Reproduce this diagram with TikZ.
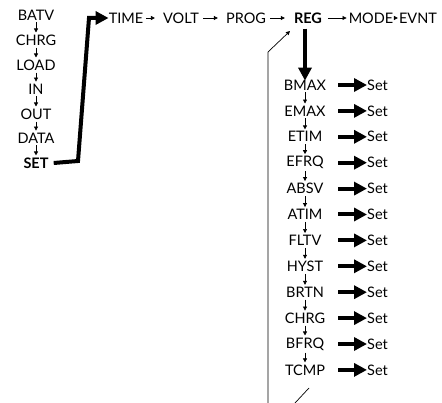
\documentclass[tikz,border=0pt]{standalone}
\usepackage{fontspec}
\setmainfont{Lato}
\usetikzlibrary{arrows.meta}
\begin{document}
\begin{tikzpicture}[x=1pt,y=-1pt,
  lbl/.style={inner sep=0pt, font=\fontsize{14.5}{14.5}\selectfont},
  blbl/.style={lbl, font=\fontsize{14.5}{14.5}\selectfont\bfseries},
  sarrow/.style={-{Triangle[length=4pt,width=4pt]}, line width=0.7pt, shorten >=2pt, shorten <=2pt},
  harrow/.style={-{Triangle[length=4pt,width=4pt]}, line width=0.7pt},
  thinline/.style={line width=0.7pt},
  bigarrow/.style={line width=4pt, -{Triangle[length=13pt,width=13pt]}}]
\useasboundingbox (0,0) rectangle (442,403);
% left column
\node[lbl] (batv) at (36,15) {BATV};
\node[lbl] (chrgA) at (36,40) {CHRG};
\node[lbl] (load) at (36,65) {LOAD};
\node[lbl] (in) at (36,89) {IN};
\node[lbl] (out) at (36,114) {OUT};
\node[lbl] (data) at (36,138) {DATA};
\node[blbl] (set) at (36,163) {SET};
\foreach \a/\b in {batv/chrgA,chrgA/load,load/in,in/out,out/data,data/set}
  \draw[sarrow] (\a.south) -- (\b.north);
% top row
\node[lbl] (time) at (126,18) {TIME};
\node[lbl] (volt) at (181,18) {VOLT};
\node[lbl] (prog) at (246,18) {PROG};
\node[blbl] (reg) at (308,18) {REG};
\node[lbl] (mode) at (371,18) {MODE};
\node[lbl] (evnt) at (418,18) {EVNT};
\draw[harrow] ([xshift=3pt]time.east) -- ([xshift=-8pt]volt.west);
\draw[harrow] ([xshift=4pt]volt.east) -- ([xshift=-8pt]prog.west);
\draw[harrow] ([xshift=4pt]prog.east) -- ([xshift=-9pt]reg.west);
\draw[harrow] ([xshift=6pt]reg.east) -- ([xshift=-2pt]mode.west);
\draw[harrow] ([xshift=2pt]mode.east) -- ([xshift=-1pt]evnt.west);
% thick path from SET to TIME
\coordinate (c1) at (78,161);
\coordinate (c2) at (89,18);
\draw[bigarrow, line join=miter] ([xshift=5pt]set.east) -- (c1) -- (c2) -- (time.west);
% right column
\foreach \n [count=\i from 0] in {BMAX,EMAX,ETIM,EFRQ,ABSV,ATIM,FLTV,HYST,BRTN,CHRG,BFRQ,TCMP}{
  \node[lbl] (r\i) at (305,85+25.9*\i) {\n};
  \node[lbl, anchor=west] (s\i) at (367,85+25.9*\i) {Set};
  \draw[bigarrow] ([xshift=-29pt]s\i.west) -- (s\i.west);
}
\foreach \i [evaluate=\i as \j using int(\i+1)] in {0,...,10}
  \draw[sarrow] (r\i.south) -- (r\j.north);
\draw[bigarrow] ([yshift=-5pt]r0.north |- reg.south) -- ([yshift=-1pt]r0.north);
% return line
\coordinate (rb) at (268,403);
\coordinate (rt) at (268,52);
\coordinate (rtip) at (290,31);
\draw[thinline, -{Triangle[length=4pt,width=4pt]}] (rb) -- (rt) -- (rtip);
\coordinate (db) at (295,403);
\coordinate (dt) at (309,388);
\draw[thinline] (db) -- (dt);
\end{tikzpicture}
\end{document}
